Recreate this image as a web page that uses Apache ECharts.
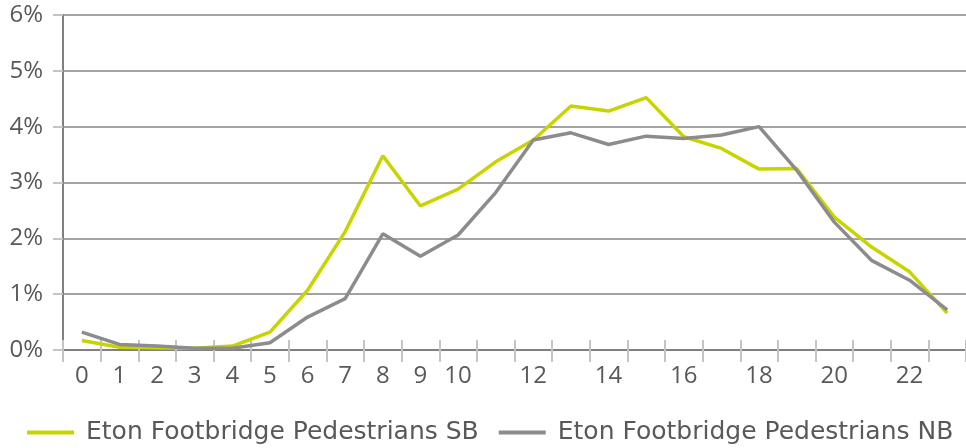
<!DOCTYPE html>
<html>
<head>
<meta charset="utf-8">
<script src="https://cdn.jsdelivr.net/npm/echarts@6/dist/echarts.min.js"></script>
<style>
html,body{margin:0;padding:0;background:#fff;}
#chart{width:966px;height:448px;}
</style>
</head>
<body>
<div id="chart"></div>
<script>
var hours = ['0','1','2','3','4','5','6','7','8','9','10','11','12','13','14','15','16','17','18','19','20','21','22','23'];
var seriesNames = ['Eton Footbridge Pedestrians SB', 'Eton Footbridge Pedestrians NB'];
var sbValues = [0.17, 0.05, 0.04, 0.03, 0.07, 0.32, 1.07, 2.12, 3.48, 2.58, 2.88, 3.37, 3.76, 4.37, 4.28, 4.52, 3.82, 3.61, 3.24, 3.25, 2.38, 1.84, 1.40, 0.66];
var nbValues = [0.32, 0.10, 0.07, 0.03, 0.03, 0.13, 0.59, 0.92, 2.08, 1.68, 2.06, 2.82, 3.76, 3.89, 3.68, 3.83, 3.79, 3.85, 4.00, 3.22, 2.29, 1.60, 1.25, 0.72];
var yTicks = [0, 1, 2, 3, 4, 5, 6];

var FONT = 'Open Sans';
var chart = echarts.init(document.getElementById('chart'), null, {renderer: 'canvas'});
chart.setOption({
  animation: false,
  backgroundColor: '#ffffff',
  grid: {left: 63, top: 15, width: 909, bottom: 98, containLabel: false},
  legend: {
    data: seriesNames,
    left: 27, top: 420, padding: 0,
    icon: 'rect', itemWidth: 47, itemHeight: 4, itemGap: 20,
    textStyle: {fontFamily: 'DejaVu Sans', fontSize: 25, color: '#595959', padding: [0, 0, 0, 7]}
  },
  xAxis: [{
    type: 'category', data: hours, boundaryGap: true,
    axisLine: {show: true, lineStyle: {color: '#808080', width: 2}},
    axisTick: {show: true, interval: 0, inside: false, length: 12, lineStyle: {color: '#c4c4c4', width: 2}},
    axisLabel: {
      interval: function (i) { return i <= 10 || i % 2 === 0; },
      fontFamily: FONT, fontSize: 24, color: '#595959', margin: 14
    },
    splitLine: {show: false}
  }, {
    type: 'category', data: hours, boundaryGap: true, position: 'bottom',
    axisLine: {show: false},
    axisTick: {show: true, interval: 0, inside: true, length: 10, lineStyle: {color: '#c4c4c4', width: 2}},
    axisLabel: {show: false},
    splitLine: {show: false}
  }],
  yAxis: {
    type: 'value', min: yTicks[0], max: yTicks[yTicks.length - 1], interval: 1,
    axisLine: {show: true, lineStyle: {color: '#808080', width: 2}},
    axisTick: {show: true, length: 10, lineStyle: {color: '#c4c4c4', width: 2}},
    axisLabel: {formatter: '{value}%', fontFamily: FONT, fontSize: 24, color: '#595959', margin: 20},
    splitLine: {show: true, lineStyle: {color: '#a3a3a3', width: 2}}
  },
  series: [{
    name: seriesNames[0], type: 'line', data: sbValues, xAxisIndex: 0,
    showSymbol: false, symbol: 'none',
    lineStyle: {color: '#c8d400', width: 3.5}, itemStyle: {color: '#c8d400'}
  }, {
    name: seriesNames[1], type: 'line', data: nbValues, xAxisIndex: 0,
    showSymbol: false, symbol: 'none',
    lineStyle: {color: '#8c8c8c', width: 3.5}, itemStyle: {color: '#8c8c8c'}
  }]
});
</script>
</body>
</html>
